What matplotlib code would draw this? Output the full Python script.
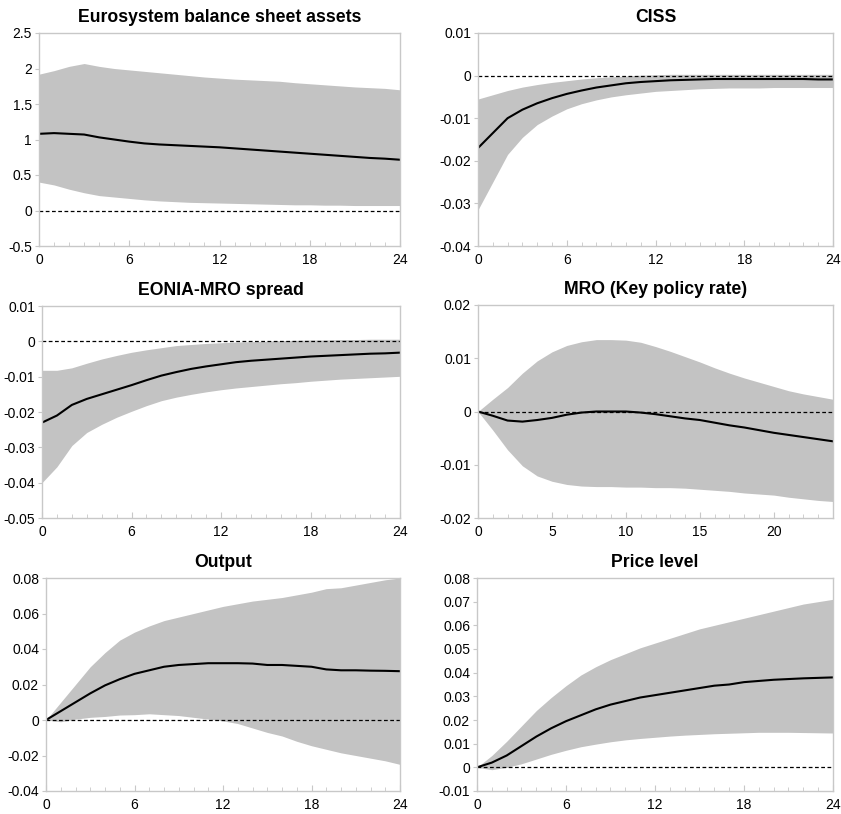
import numpy as np
import matplotlib.pyplot as plt
from matplotlib.ticker import MultipleLocator

plt.rcParams['font.family'] = ['Liberation Sans', 'DejaVu Sans']

horizon = np.arange(25)

# Eurosystem balance sheet assets
bs_mean = [1.08, 1.09, 1.08, 1.07, 1.03, 1.00, 0.97, 0.945, 0.93, 0.92, 0.91, 0.90, 0.89,
           0.875, 0.86, 0.845, 0.83, 0.815, 0.80, 0.785, 0.77, 0.755, 0.74, 0.73, 0.715]
bs_hi = [1.92, 1.97, 2.03, 2.07, 2.03, 2.00, 1.98, 1.96, 1.94, 1.92, 1.90, 1.88, 1.865,
         1.85, 1.84, 1.83, 1.82, 1.80, 1.785, 1.77, 1.755, 1.74, 1.73, 1.72, 1.70]
bs_lo = [0.40, 0.36, 0.30, 0.25, 0.21, 0.19, 0.17, 0.15, 0.135, 0.125, 0.115, 0.11, 0.105,
         0.10, 0.095, 0.09, 0.085, 0.08, 0.08, 0.075, 0.075, 0.07, 0.07, 0.07, 0.07]

# CISS
ciss_mean = [-0.017, -0.0135, -0.010, -0.008, -0.0065, -0.0053, -0.0043, -0.0035, -0.0028,
             -0.0023, -0.0018, -0.0015, -0.0013, -0.0011, -0.0010, -0.0009, -0.0008, -0.0008,
             -0.0008, -0.0008, -0.0008, -0.0008, -0.0008, -0.0009, -0.0009]
ciss_hi = [-0.0055, -0.0045, -0.0035, -0.0027, -0.0021, -0.0016, -0.0012, -0.0008, -0.0005,
           -0.0003, -0.0001, 0.0001, 0.0002, 0.0003, 0.0003, 0.0003, 0.0003, 0.0003, 0.0003,
           0.0003, 0.0003, 0.0003, 0.0003, 0.0003, 0.0003]
ciss_lo = [-0.0315, -0.025, -0.0185, -0.0145, -0.0115, -0.0095, -0.0078, -0.0066, -0.0057,
           -0.005, -0.0045, -0.0041, -0.0037, -0.0035, -0.0033, -0.0031, -0.003, -0.0029,
           -0.0029, -0.0029, -0.0028, -0.0028, -0.0028, -0.0028, -0.0028]

# EONIA-MRO spread
eonia_mean = [-0.023, -0.021, -0.018, -0.0163, -0.015, -0.0137, -0.0124, -0.011, -0.0097,
              -0.0087, -0.0078, -0.0071, -0.0065, -0.0059, -0.0055, -0.0052, -0.0049, -0.0046,
              -0.0043, -0.0041, -0.0039, -0.0037, -0.0035, -0.0034, -0.0032]
eonia_hi = [-0.0082, -0.0082, -0.0075, -0.0062, -0.005, -0.004, -0.0031, -0.0024, -0.0018,
            -0.0012, -0.0009, -0.0006, -0.0004, -0.0002, -0.0001, 0.0, 0.0002, 0.0003, 0.0004,
            0.0004, 0.0005, 0.0005, 0.0006, 0.0006, 0.0006]
eonia_lo = [-0.040, -0.0355, -0.0295, -0.0258, -0.0235, -0.0215, -0.0198, -0.0182, -0.0168,
            -0.0158, -0.015, -0.0143, -0.0137, -0.0132, -0.0128, -0.0124, -0.012, -0.0117,
            -0.0113, -0.011, -0.0107, -0.0105, -0.0103, -0.0101, -0.0099]

# MRO (key policy rate)
mro_mean = [0.0, -0.0008, -0.0017, -0.0019, -0.0016, -0.0012, -0.0006, -0.0002, 0.0, 0.0,
            0.0, -0.0002, -0.0005, -0.0009, -0.0013, -0.0016, -0.0021, -0.0026, -0.003,
            -0.0035, -0.004, -0.0044, -0.0048, -0.0052, -0.0056]
mro_hi = [0.0, 0.0023, 0.0045, 0.0072, 0.0095, 0.0112, 0.0124, 0.0131, 0.0135, 0.0135,
          0.0134, 0.013, 0.0122, 0.0113, 0.0103, 0.0093, 0.0082, 0.0072, 0.0063, 0.0055,
          0.0047, 0.0039, 0.0033, 0.0028, 0.0023]
mro_lo = [0.0, -0.0035, -0.0072, -0.0102, -0.0121, -0.0131, -0.0137, -0.014, -0.0141,
          -0.0141, -0.0142, -0.0142, -0.0143, -0.0143, -0.0144, -0.0146, -0.0148, -0.015,
          -0.0153, -0.0155, -0.0157, -0.0161, -0.0164, -0.0167, -0.0169]

# Output
out_mean = [0.0, 0.005, 0.010, 0.015, 0.0195, 0.023, 0.026, 0.028, 0.030, 0.031, 0.0315,
            0.032, 0.032, 0.032, 0.0318, 0.031, 0.031, 0.0305, 0.030, 0.0285, 0.028, 0.028,
            0.0278, 0.0277, 0.0275]
out_hi = [0.0, 0.010, 0.020, 0.030, 0.038, 0.045, 0.0495, 0.053, 0.056, 0.058, 0.060, 0.062,
          0.064, 0.0655, 0.067, 0.068, 0.069, 0.0705, 0.072, 0.074, 0.0745, 0.076, 0.0775,
          0.079, 0.080]
out_lo = [0.0, -0.001, 0.0005, 0.0015, 0.002, 0.0028, 0.003, 0.0035, 0.003, 0.0025, 0.0015,
          0.0005, -0.0005, -0.002, -0.0045, -0.007, -0.009, -0.012, -0.0145, -0.0165, -0.0185,
          -0.020, -0.0215, -0.023, -0.025]

# Price level
pl_mean = [0.0, 0.002, 0.005, 0.009, 0.013, 0.0165, 0.0195, 0.022, 0.0245, 0.0265, 0.028,
           0.0295, 0.0305, 0.0315, 0.0325, 0.0335, 0.0345, 0.035, 0.036, 0.0365, 0.037,
           0.0373, 0.0376, 0.0378, 0.038]
pl_hi = [0.0, 0.005, 0.011, 0.0175, 0.024, 0.0295, 0.0345, 0.039, 0.0425, 0.0455, 0.048,
         0.0505, 0.0525, 0.0545, 0.0565, 0.0585, 0.060, 0.0615, 0.063, 0.0645, 0.066, 0.0675,
         0.069, 0.070, 0.071]
pl_lo = [0.0, -0.001, 0.0, 0.0015, 0.0035, 0.0055, 0.0072, 0.0087, 0.0098, 0.0108, 0.0116,
         0.0122, 0.0127, 0.0132, 0.0136, 0.0139, 0.0142, 0.0144, 0.0146, 0.0148, 0.0148,
         0.0148, 0.0147, 0.0146, 0.0145]

panels = [
    ("Eurosystem balance sheet assets", bs_mean, bs_lo, bs_hi, (-0.5, 2.5), 0.5, 6, "{:g}"),
    ("CISS", ciss_mean, ciss_lo, ciss_hi, (-0.04, 0.01), 0.01, 6, "{:.2f}"),
    ("EONIA-MRO spread", eonia_mean, eonia_lo, eonia_hi, (-0.05, 0.01), 0.01, 6, "{:.2f}"),
    ("MRO (Key policy rate)", mro_mean, mro_lo, mro_hi, (-0.02, 0.02), 0.01, 5, "{:.2f}"),
    ("Output", out_mean, out_lo, out_hi, (-0.04, 0.08), 0.02, 6, "{:.2f}"),
    ("Price level", pl_mean, pl_lo, pl_hi, (-0.01, 0.08), 0.01, 6, "{:.2f}"),
]

# axes rectangles in pixels (left, top, right, bottom)
W, H = 841, 814
boxes = [(39, 33, 400, 246), (478, 33, 833, 246),
         (42, 306, 400, 518), (478, 305, 833, 518),
         (46, 578, 400, 791), (477, 578, 833, 791)]

fig = plt.figure(figsize=(W / 100, H / 100), dpi=100)
spine_col = '#c8c8c8'

for (title, mean, lo, hi, ylim, ystep, xstep, fmt), (l, t, r, b) in zip(panels, boxes):
    ax = fig.add_axes([l / W, 1 - b / H, (r - l) / W, (b - t) / H])
    ax.fill_between(horizon, lo, hi, color='#c3c3c3', linewidth=0)
    ax.plot(horizon, mean, color='black', linewidth=1.5)
    ax.axhline(0, color='black', linewidth=0.9, linestyle=(0, (3, 2)))
    ax.set_xlim(0, 24)
    ax.set_ylim(*ylim)
    ax.xaxis.set_major_locator(MultipleLocator(xstep))
    ax.xaxis.set_minor_locator(MultipleLocator(1))
    ax.yaxis.set_major_locator(MultipleLocator(ystep))
    yt = ax.get_yticks()
    ax.set_yticks(yt)
    ax.set_yticklabels([("0" if abs(v) < 1e-12 else fmt.format(v)) for v in yt])
    ax.set_ylim(*ylim)
    for s in ax.spines.values():
        s.set_color(spine_col)
        s.set_linewidth(1.0)
    ax.tick_params(axis='x', which='both', direction='in', color=spine_col,
                   labelsize=10, pad=5)
    ax.tick_params(axis='x', which='major', length=4)
    ax.tick_params(axis='x', which='minor', length=3)
    ax.tick_params(axis='y', direction='out', length=3, color=spine_col, labelsize=10, pad=2)
    ax.set_title(title, fontsize=12.7, fontweight='bold', pad=8)

fig.savefig('out.png', dpi=100)
